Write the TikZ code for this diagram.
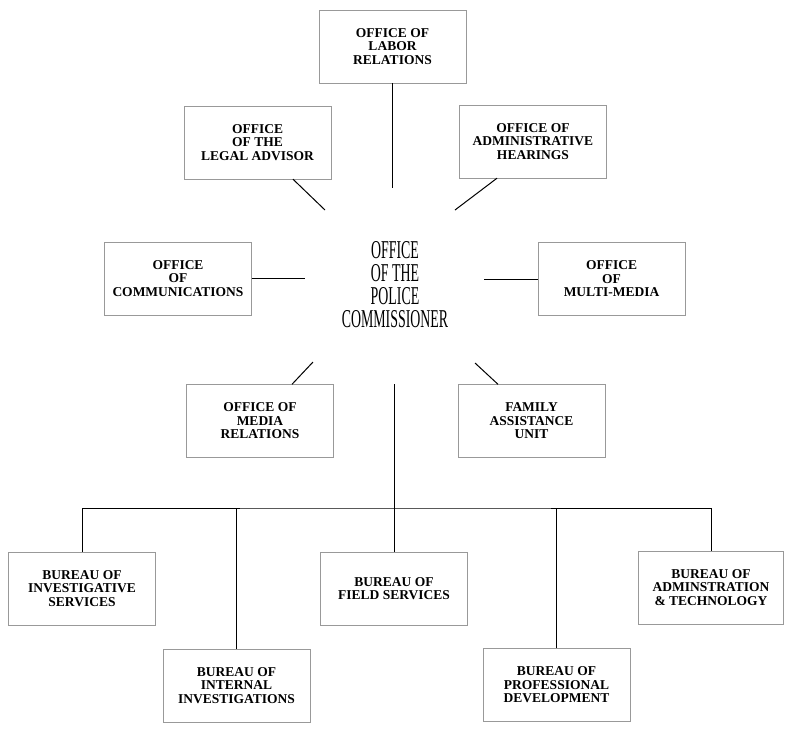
\documentclass[tikz,border=0pt]{standalone}
\usepackage{fontspec}
\setmainfont{Liberation Serif}
\newfontfamily\chieffont[FakeStretch=0.54]{Liberation Serif}

\tikzset{
  unit/.style={draw=black!40, line width=0.4pt, minimum width=147pt,
    minimum height=73pt, inner sep=0pt, align=center,
    font=\bfseries\fontsize{13.5}{13.5}\selectfont},
  link/.style={line width=1pt}
}

\begin{document}
\begin{tikzpicture}[x=1pt,y=-1pt]
  \useasboundingbox (0,0) rectangle (785,729);

  % commissioner and staff offices
  \node[font=\chieffont\fontsize{25.7}{23}\selectfont, align=center, inner sep=0pt]
    (chief) at (395,284.5) {OFFICE\\OF THE\\POLICE\\COMMISSIONER};

  \node[unit] (labor) at (392.5,46.5) {OFFICE OF\\LABOR\\RELATIONS};
  \node[unit] (legal) at (257.5,142.5) {OFFICE\\OF THE\\LEGAL ADVISOR};
  \node[unit] (hearings) at (533,141.5) {OFFICE OF\\ADMINISTRATIVE\\HEARINGS};
  \node[unit] (comm) at (178,278.5) {OFFICE\\OF\\COMMUNICATIONS};
  \node[unit] (multi) at (611.5,279) {OFFICE\\OF\\MULTI-MEDIA};
  \node[unit] (media) at (260,421) {OFFICE OF\\MEDIA\\RELATIONS};
  \node[unit] (family) at (531.5,421) {FAMILY\\ASSISTANCE\\UNIT};

  % bureaus
  \node[unit] (invest) at (82,588.5) {BUREAU OF\\INVESTIGATIVE\\SERVICES};
  \node[unit] (internal) at (236.5,685.5) {BUREAU OF\\INTERNAL\\INVESTIGATIONS};
  \node[unit] (field) at (394,588.5) {BUREAU OF\\FIELD SERVICES};
  \node[unit] (prof) at (556.5,685) {BUREAU OF\\PROFESSIONAL\\DEVELOPMENT};
  \node[unit, minimum width=145pt] (admin) at (711,587.5) {BUREAU OF\\ADMINSTRATION\\\& TECHNOLOGY};

  \coordinate (cN) at (392.5,188);
  \coordinate (cNW) at (325,210);
  \coordinate (cNE) at (455,210);
  \coordinate (cW) at (305,278.5);
  \coordinate (cE) at (484,279);
  \coordinate (cSW) at (313,362);
  \coordinate (cSE) at (475,363);
  \coordinate (cS) at (394,384);
  \coordinate (bus) at (394,508);

  \draw[link] (labor.south) -- (cN);
  \draw[link] ([xshift=35.5pt]legal.south) -- (cNW);
  \draw[link] ([xshift=-36pt]hearings.south) -- (cNE);
  \draw[link] (comm.east) -- (cW);
  \draw[link] (cE) -- (multi.west);
  \draw[link] ([xshift=32pt]media.north) -- (cSW);
  \draw[link] ([xshift=-33.5pt]family.north) -- (cSE);

  \draw[link] (cS) -- (bus);
  \draw[link] (invest.north) |- (bus) -| (admin.north);
  \foreach \b in {internal,field,prof}
    \draw[link] (\b.north) -- (\b.north |- bus);

\end{tikzpicture}
\end{document}
